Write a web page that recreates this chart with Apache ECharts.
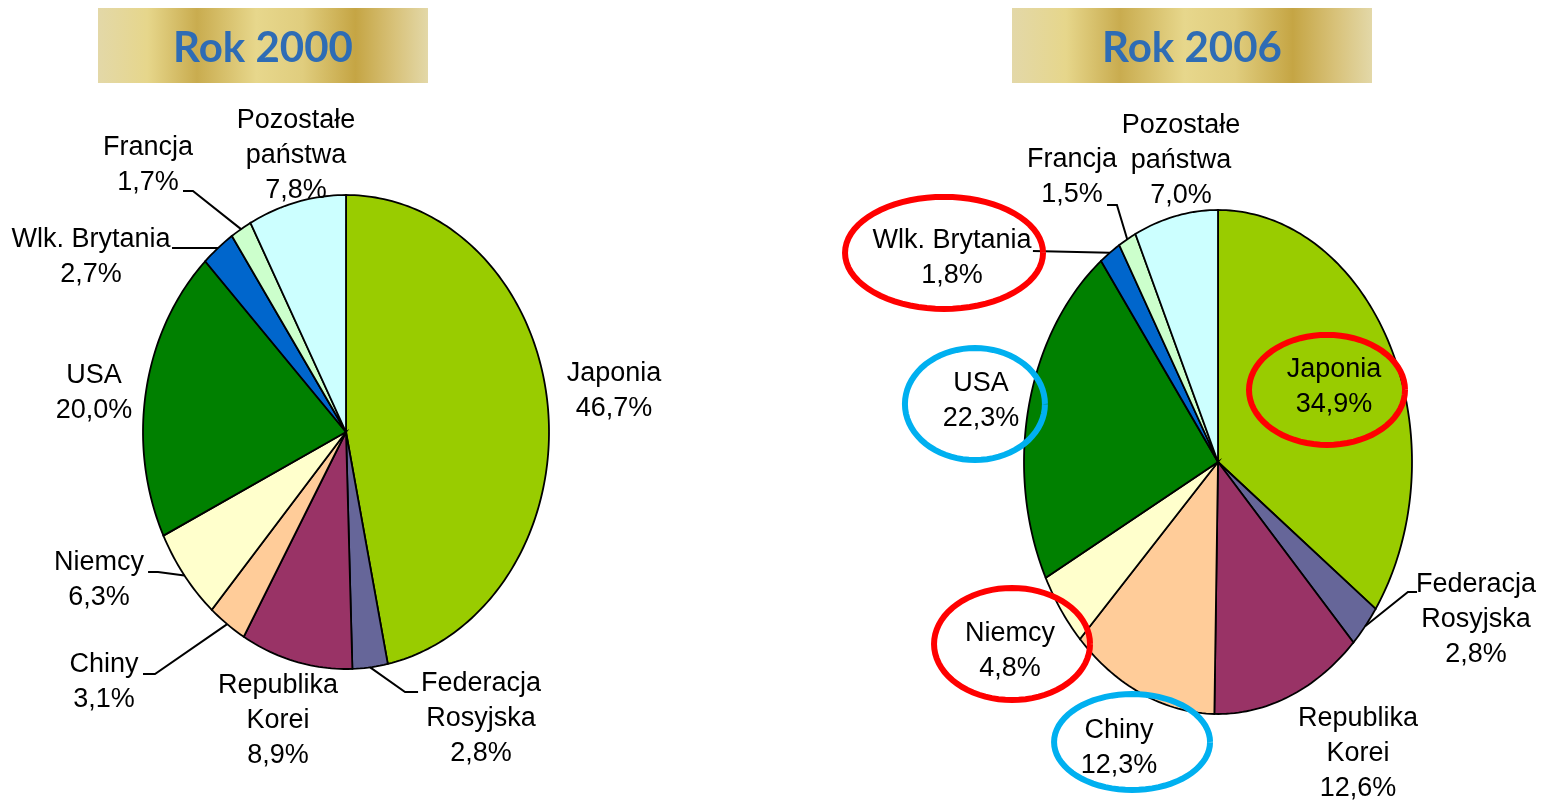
<!DOCTYPE html>
<html>
<head>
<meta charset="utf-8">
<script src="https://cdn.jsdelivr.net/npm/echarts@6/dist/echarts.min.js"></script>
<style>
    html, body { margin: 0; padding: 0; background: #fff; }
    #chart { width: 1546px; height: 805px; }
</style>
</head>
<body>
<div id="chart"></div>
<script>
// data, clockwise from 12 o'clock
const countries = ['Japonia', 'Federacja\nRosyjska', 'Republika\nKorei', 'Chiny', 'Niemcy', 'USA', 'Wlk. Brytania', 'Francja', 'Pozostałe\npaństwa'];
const share2000 = [46.7, 2.8, 8.9, 3.1, 6.3, 20.0, 2.7, 1.7, 7.8];
const share2006 = [34.9, 2.8, 12.6, 12.3, 4.8, 22.3, 1.8, 1.5, 7.0];
const titles = ['Rok 2000', 'Rok 2006'];
const marked2006 = ['red', null, null, 'blue', 'red', 'blue', 'red', null, null];

const sliceColors = ['#99CC00', '#666699', '#993366', '#FFCC99', '#FFFFCC', '#008000', '#0066CC', '#CCFFCC', '#CCFFFF'];
const markColors = { red: '#FF0000', blue: '#00B0F0' };

// label layout, in units of the pie radius (x right, y up)
const labelPos2000 = [[1.320, 0.173], [0.665, -1.207], [-0.335, -1.219], [-1.192, -1.055], [-1.217, -0.624], [-1.241, 0.165], [-1.256, 0.738], [-0.975, 1.127], [-0.246, 1.165]];
const labelPos2006 = [[0.598, 0.298], [1.330, -0.627], [0.722, -1.155], [-0.510, -1.135], [-1.072, -0.750], [-1.222, 0.242], [-1.371, 0.810], [-0.753, 1.131], [-0.191, 1.198]];
// leader lines: [knee, end] or null
const leaders2000 = [null, [[0.291, -1.097], [0.355, -1.097]], null, [[-0.941, -1.021], [-1.0, -1.021]], [[-0.926, -0.591], [-0.975, -0.591]], null, [[-0.857, 0.776], [-0.857, 0.776]], [[-0.754, 1.017], [-0.803, 1.017]], null];
const leaders2006 = [null, [[0.979, -0.516], [1.026, -0.516]], null, null, null, null, [[-0.954, 0.837], [-0.954, 0.837]], [[-0.521, 1.020], [-0.572, 1.020]], null];
// highlight ellipses around 2006 labels: [dx, dy, rx, ry] in px from label centre
const markBox2006 = [[-7, 3, 78, 55], null, null, [13, -6, 78, 48], [2, -7, 78, 56], [-6, 3, 70, 56], [-8, -5, 99, 56], null, null];

const fmt = v => v.toFixed(1).replace('.', ',') + '%';

const spans = (vals) => {
    let sum = 0;
    return vals.map(v => {
        const a = sum;
        sum += v;
        return [a, sum];
    });
};

const unitPoint = (pct) => {
    const t = pct / 100 * 2 * Math.PI;
    return [Math.sin(t), Math.cos(t)];
};

const sliceSeries = (idx, vals) => {
    const sp = spans(vals);
    return {
        type: 'custom',
        xAxisIndex: idx,
        yAxisIndex: idx,
        clip: false,
        silent: true,
        data: vals,
        renderItem: (params, api) => {
            const [a0, a1] = sp[params.dataIndex];
            const steps = Math.max(2, Math.ceil((a1 - a0) * 3));
            const pts = [api.coord([0, 0])];
            for (let i = 0; i <= steps; i += 1) {
                pts.push(api.coord(unitPoint(a0 + (a1 - a0) * i / steps)));
            }
            return {
                type: 'polygon',
                shape: { points: pts },
                style: { fill: sliceColors[params.dataIndex], stroke: '#000', lineWidth: 1.8 }
            };
        }
    };
};

const labelSeries = (idx, vals, pos, leaders, marks, boxes) => {
    const sp = spans(vals);
    return {
        type: 'custom',
        xAxisIndex: idx,
        yAxisIndex: idx,
        clip: false,
        silent: true,
        z: 5,
        data: vals,
        renderItem: (params, api) => {
            const i = params.dataIndex;
            const [a0, a1] = sp[i];
            const c = api.coord(pos[i]);
            const children = [];
            const ld = leaders[i];
            if (ld) {
                children.push({
                    type: 'polyline',
                    shape: { points: [api.coord(unitPoint((a0 + a1) / 2)), api.coord(ld[0]), api.coord(ld[1])] },
                    style: { stroke: '#000', lineWidth: 2, fill: null }
                });
            }
            if (marks && marks[i]) {
                const b = boxes[i];
                const ring = [];
                for (let k = 0; k <= 72; k += 1) {
                    const t = k / 72 * 2 * Math.PI;
                    ring.push([c[0] + b[0] + b[2] * Math.cos(t), c[1] + b[1] + b[3] * Math.sin(t)]);
                }
                children.push({
                    type: 'polyline',
                    shape: { points: ring },
                    style: { stroke: markColors[marks[i]], lineWidth: 6, fill: null }
                });
            }
            children.push({
                type: 'text',
                style: {
                    text: countries[i] + '\n' + fmt(vals[i]),
                    x: c[0],
                    y: c[1],
                    align: 'center',
                    verticalAlign: 'middle',
                    fontFamily: 'Liberation Sans',
                    fontSize: 27,
                    lineHeight: 35,
                    fill: '#000'
                }
            });
            return { type: 'group', children: children };
        }
    };
};

const hiddenAxis = (idx) => ({
    type: 'value',
    gridIndex: idx,
    min: -1,
    max: 1,
    show: false
});

const titleBox = (x, width, text) => ({
    type: 'group',
    left: x,
    top: 8,
    children: [{
        type: 'rect',
        shape: { x: 0, y: 0, width: width, height: 75 },
        style: {
            fill: new echarts.graphic.LinearGradient(0, 0, 1, 0, [
                { offset: 0, color: '#E3D8A8' },
                { offset: 0.15, color: '#E6D68B' },
                { offset: 0.3, color: '#C9AC4F' },
                { offset: 0.48, color: '#E7D78C' },
                { offset: 0.62, color: '#E0CD7E' },
                { offset: 0.78, color: '#C5A544' },
                { offset: 0.9, color: '#D8C27A' },
                { offset: 1, color: '#E3D8A8' }
            ])
        }
    }, {
        type: 'text',
        style: {
            text: text,
            x: width / 2,
            y: 40,
            align: 'center',
            verticalAlign: 'middle',
            fontFamily: 'Lato',
            fontWeight: 'bold',
            fontSize: 42,
            fill: '#2E6CB5'
        }
    }]
});

const option = {
    backgroundColor: '#fff',
    animation: false,
    grid: [
        { left: 143, top: 195, width: 406, height: 474 },
        { left: 1024, top: 210, width: 388, height: 504 }
    ],
    xAxis: [hiddenAxis(0), hiddenAxis(1)],
    yAxis: [hiddenAxis(0), hiddenAxis(1)],
    graphic: [titleBox(98, 330, titles[0]), titleBox(1012, 360, titles[1])],
    series: [
        sliceSeries(0, share2000),
        sliceSeries(1, share2006),
        labelSeries(0, share2000, labelPos2000, leaders2000, null, null),
        labelSeries(1, share2006, labelPos2006, leaders2006, marked2006, markBox2006)
    ]
};

const myChart = echarts.init(document.getElementById('chart'), null, { renderer: 'canvas' });
myChart.setOption(option);
</script>
</body>
</html>
